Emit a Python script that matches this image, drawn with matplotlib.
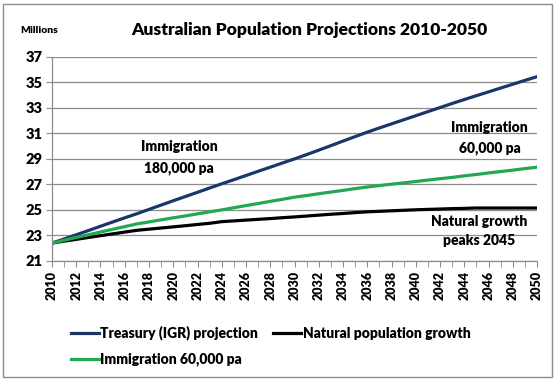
import matplotlib
matplotlib.use("Agg")
import matplotlib.pyplot as plt
from matplotlib.patches import Rectangle

years = list(range(2010, 2051))

# millions
treasury = [22.40, 22.72, 23.05, 23.38, 23.72, 24.05, 24.38, 24.70, 25.04, 25.38,
            25.72, 26.05, 26.38, 26.72, 27.05, 27.37, 27.70, 28.03, 28.35, 28.68,
            29.00, 29.34, 29.69, 30.04, 30.40, 30.75, 31.10, 31.43, 31.75, 32.07,
            32.39, 32.71, 33.03, 33.35, 33.66, 33.96, 34.26, 34.56, 34.86, 35.16,
            35.45]
natural = [22.40, 22.55, 22.69, 22.84, 22.98, 23.12, 23.26, 23.40, 23.49, 23.58,
           23.67, 23.76, 23.86, 23.95, 24.08, 24.14, 24.20, 24.26, 24.32, 24.39,
           24.45, 24.52, 24.59, 24.66, 24.72, 24.79, 24.85, 24.89, 24.93, 24.97,
           25.01, 25.04, 25.07, 25.10, 25.12, 25.15, 25.15, 25.15, 25.15, 25.15,
           25.15]
immig60 = [22.40, 22.62, 22.84, 23.05, 23.27, 23.48, 23.69, 23.90, 24.06, 24.22,
           24.38, 24.53, 24.69, 24.85, 25.00, 25.17, 25.34, 25.50, 25.67, 25.83,
           26.00, 26.13, 26.27, 26.40, 26.53, 26.67, 26.80, 26.91, 27.02, 27.12,
           27.23, 27.34, 27.45, 27.55, 27.67, 27.78, 27.90, 28.01, 28.12, 28.24,
           28.35]

y_ticks = list(range(21, 38, 2))
x_labels = list(range(2010, 2051, 2))

plt.rcParams['font.family'] = ['Lato', 'DejaVu Sans']
plt.rcParams['font.weight'] = 'heavy'

fig = plt.figure(figsize=(5.56, 3.82), dpi=100)
fig.patches.append(Rectangle((0.006, 0.012), 0.987, 0.978, transform=fig.transFigure,
                             fill=False, edgecolor='#8c8c8c', linewidth=1))
ax = fig.add_axes([0.0935, 0.317, 0.8725, 0.534])

navy = '#1b3668'
green = '#22a853'
l1, = ax.plot(years, treasury, color=navy, lw=2.3, label='Treasury (IGR) projection')
l2, = ax.plot(years, natural, color='black', lw=2.3, label='Natural population growth')
l3, = ax.plot(years, immig60, color=green, lw=2.3, label='Immigration 60,000 pa')

ax.set_xlim(2010, 2050)
ax.set_ylim(21, 37)
ax.set_yticks(y_ticks)
ax.set_yticklabels([str(v) for v in y_ticks], fontsize=10.5)
ax.set_xticks(years, minor=True)
ax.set_xticks(x_labels)
ax.set_xticklabels([str(v) for v in x_labels], rotation=90, fontsize=9)
ax.tick_params(axis='x', which='both', length=4, color='#8c8c8c', pad=3)
ax.tick_params(axis='y', length=4, color='#8c8c8c', pad=3)
ax.grid(axis='y', color='#8c8c8c', lw=0.9)
ax.set_axisbelow(True)
for s in ['top', 'right']:
    ax.spines[s].set_visible(False)
for s in ['left', 'bottom']:
    ax.spines[s].set_color('#8c8c8c')
    ax.spines[s].set_linewidth(0.9)

fig.text(0.557, 0.921, 'Australian Population Projections 2010-2050', ha='center',
         va='center', fontsize=12.5)
fig.text(0.036, 0.921, 'Millions', ha='left', va='center', fontsize=7.5)

ax.text(2020.5, 29.94, 'Immigration', ha='center', va='center', fontsize=10)
ax.text(2020.5, 28.3, '180,000 pa', ha='center', va='center', fontsize=10)
ax.text(2046.1, 31.43, 'Immigration', ha='center', va='center', fontsize=10)
ax.text(2046.1, 29.86, '60,000 pa', ha='center', va='center', fontsize=10)
ax.text(2045.2, 24.06, 'Natural growth', ha='center', va='center', fontsize=10)
ax.text(2045.2, 22.6, 'peaks 2045', ha='center', va='center', fontsize=10)

# column-first fill: Treasury/Immigration in col 1, Natural in col 2
fig.legend(handles=[l1, l3, l2], loc='upper left', bbox_to_anchor=(0.118, 0.162),
           ncol=2, frameon=False, handlelength=2.0, handletextpad=0.1,
           columnspacing=1.1, labelspacing=0.9, borderaxespad=0,
           prop={'weight': 'heavy', 'size': 10})

fig.savefig('out.png', dpi=100)
